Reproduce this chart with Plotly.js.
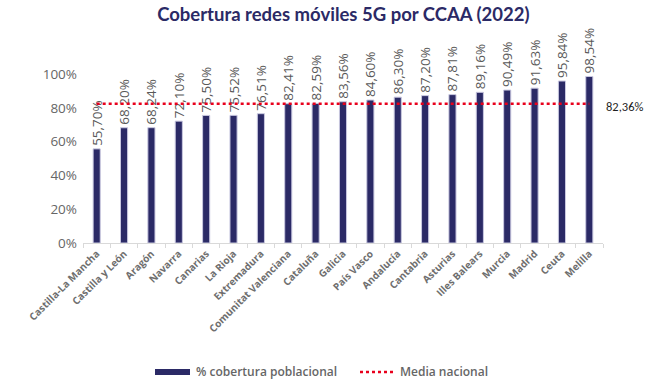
<!DOCTYPE html>
<html>
<head>
<meta charset="utf-8">
<script src="https://cdn.plot.ly/plotly-3.0.1.min.js"></script>
<style>html,body{margin:0;padding:0;background:#fff;}#chart{width:665px;height:390px;}</style>
</head>
<body>
<div id="chart"></div>
<script>
const labels = ["Castilla-La Mancha","Castilla y León","Aragón","Navarra","Canarias","La Rioja","Extremadura","Comunitat Valenciana","Cataluña","Galicia","País Vasco","Andalucía","Cantabria","Asturias","Illes Balears","Murcia","Madrid","Ceuta","Melilla"];
const cobertura = [55.70,68.20,68.24,72.10,75.50,75.52,76.51,82.41,82.59,83.56,84.60,86.30,87.20,87.81,89.16,90.49,91.63,95.84,98.54];
const mediaNacional = 82.36;
const yTicks = [0,20,40,60,80,100];
const yTickText = ["0%","20%","40%","60%","80%","100%"];
const seriesNames = ["% cobertura poblacional","Media nacional"];

const fmt = v => v.toFixed(2).replace('.', ',') + '%';
const NAVY = '#2B2A66';
const RED = '#E8001C';
const GRAY = '#666666';

const L = 83, R = 62, W = 665 - L - R;
const px = v => (v - L) / W;

const barTrace = {
  type: 'bar',
  x: labels,
  y: cobertura,
  name: seriesNames[0],
  marker: {color: NAVY, line: {color: '#C9C8E0', width: 1}},
  text: cobertura.map(fmt),
  textposition: 'outside',
  textangle: -90,
  constraintext: 'none',
  textfont: {family: 'Open Sans, Arial, sans-serif', size: 13.5, color: '#595959'},
  cliponaxis: false,
  hoverinfo: 'skip',
  showlegend: false
};

const lineTrace = {
  type: 'scatter',
  mode: 'lines',
  x: labels,
  y: labels.map(() => mediaNacional),
  name: seriesNames[1],
  line: {color: RED, width: 2.5, dash: 'dot'},
  hoverinfo: 'skip',
  showlegend: false
};

const legY = -0.763;
const layout = {
  width: 665, height: 390,
  margin: {l: L, r: R, t: 74, b: 147},
  paper_bgcolor: '#fff', plot_bgcolor: '#fff',
  title: {
    text: '<b>Cobertura redes móviles 5G por CCAA (2022)</b>',
    font: {family: 'Lato, Arial, sans-serif', size: 18.5, color: NAVY},
    x: 333 / 665, xanchor: 'center', xref: 'paper', y: 0.962, yanchor: 'middle'
  },
  bargap: 0.74,
  showlegend: false,
  xaxis: {
    type: 'category',
    range: [-0.5, labels.length - 0.5],
    tickangle: -45,
    tickfont: {family: 'Open Sans, Arial, sans-serif', size: 10, color: '#6E6E6E', weight: 'bold'},
    showline: true, linecolor: '#D9D9D9', linewidth: 1,
    ticks: 'outside', ticklen: 4, tickcolor: '#D9D9D9',
    tickson: 'boundaries',
    showgrid: false, fixedrange: true
  },
  yaxis: {
    range: [0, 100],
    tickvals: yTicks, ticktext: yTickText,
    tickfont: {family: 'Open Sans, Arial, sans-serif', size: 13.5, color: GRAY},
    showgrid: false, zeroline: false, showline: false,
    ticks: '', ticklabelstandoff: 5,
    fixedrange: true
  },
  shapes: [
    {type: 'rect', xref: 'paper', yref: 'paper', x0: px(155), x1: px(190), y0: legY - 0.018, y1: legY + 0.018,
     fillcolor: NAVY, line: {width: 0}},
    {type: 'line', xref: 'paper', yref: 'paper', x0: px(360), x1: px(396), y0: legY, y1: legY,
     line: {color: RED, width: 2.5, dash: 'dot'}}
  ],
  annotations: [
    {
      x: labels[labels.length - 1], y: mediaNacional, xref: 'x', yref: 'y',
      text: fmt(mediaNacional), showarrow: false, xanchor: 'left', yanchor: 'middle',
      xshift: 15, yshift: -3,
      font: {family: 'Carlito, Calibri, Liberation Sans, Arial, sans-serif', size: 12.5, color: '#1F1F1F'}
    },
    {
      x: px(194), y: legY, xref: 'paper', yref: 'paper', text: seriesNames[0], showarrow: false,
      xanchor: 'left', yanchor: 'middle', font: {family: 'Open Sans, Arial, sans-serif', size: 12, color: GRAY, weight: 600}
    },
    {
      x: px(398), y: legY, xref: 'paper', yref: 'paper', text: seriesNames[1], showarrow: false,
      xanchor: 'left', yanchor: 'middle', font: {family: 'Open Sans, Arial, sans-serif', size: 12, color: GRAY, weight: 600}
    }
  ]
};

Plotly.newPlot('chart', [barTrace, lineTrace], layout, {displayModeBar: false, staticPlot: true});
</script>
</body>
</html>
